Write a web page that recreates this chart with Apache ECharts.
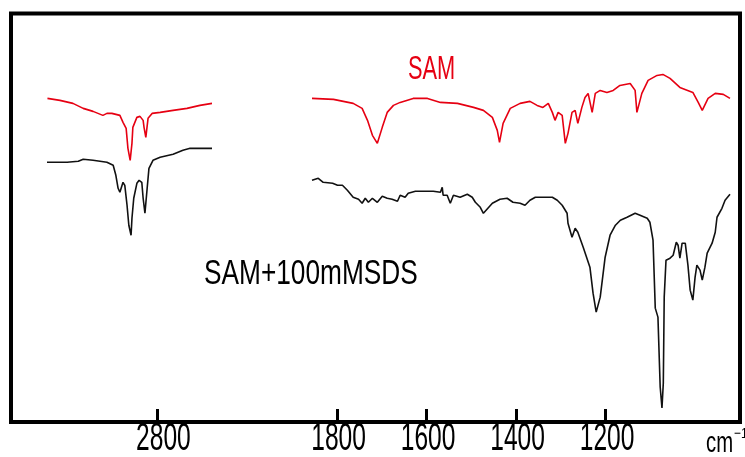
<!DOCTYPE html>
<html>
<head>
<meta charset="utf-8">
<script src="https://cdn.jsdelivr.net/npm/echarts@6/dist/echarts.min.js"></script>
<style>
html,body{margin:0;padding:0;background:#fff;}
#main{width:745px;height:457px;}
</style>
</head>
<body>
<div id="main"></div>
<script>
// 左側 (C-H 伸縮領域) 波数 / 透過率(任意単位)
var samLeftWn = [3046,3018,2989,2966,2944,2922,2913,2902,2884,2877,2870,2866,2861,2857,2855,2846,2839,2832,2830,2826,2821,2812,2794,2765,2734,2705,2678];
var samLeftT  = [324,322,319,314,311,307,309,309,307,300,294,274,262,279,295,305,306,302,295,285,304,309,310,312,314,317,319];
var sdsLeftWn = [3047,3002,2977,2966,2944,2913,2899,2893,2888,2884,2877,2873,2868,2864,2859,2857,2853,2846,2841,2835,2832,2828,2823,2819,2810,2794,2765,2743,2727,2678];
var sdsLeftT  = [260,260,261,263,262,260,257,247,234,230,240,237,217,197,187,204,224,239,242,240,224,209,234,254,262,265,268,272,274,274];

// 右側 (指紋領域)
var samRightWn = [1856,1808,1786,1764,1744,1732,1721,1710,1699,1688,1674,1659,1630,1598,1569,1531,1495,1473,1453,1442,1437,1429,1413,1391,1369,1353,1340,1328,1319,1313,1306,1297,1290,1284,1275,1268,1262,1253,1246,1239,1230,1223,1212,1197,1183,1168,1145,1134,1130,1119,1105,1085,1072,1056,1034,1005,993,984,971,955,937,922];
var samRightT  = [324,323,321,319,314,302,287,279,295,310,317,320,324,324,320,319,315,312,305,292,280,299,314,319,321,317,315,319,310,302,310,307,279,289,310,312,299,315,325,329,310,329,332,330,332,337,339,332,310,329,342,347,348,344,335,330,320,312,324,329,328,324];
var sdsRightWn = [1856,1842,1831,1810,1799,1788,1777,1764,1752,1744,1737,1730,1721,1710,1699,1688,1677,1665,1659,1648,1641,1625,1585,1569,1565,1563,1554,1547,1540,1525,1509,1498,1491,1480,1473,1465,1453,1436,1420,1407,1391,1380,1369,1357,1319,1308,1297,1286,1284,1275,1268,1262,1250,1235,1228,1221,1212,1201,1190,1178,1167,1152,1134,1123,1107,1101,1094,1089,1083,1078,1074,1071,1069,1065,1056,1049,1042,1038,1034,1029,1022,1016,1011,1005,1000,996,989,984,978,973,962,955,951,940,933,922];
var sdsRightT  = [242,244,240,239,237,237,232,225,223,219,224,220,224,220,226,224,223,221,227,225,229,231,231,230,235,227,227,219,227,225,228,225,220,215,209,213,219,223,224,220,219,217,222,225,225,222,217,209,199,185,194,190,175,155,129,110,125,165,187,197,202,205,209,207,204,200,182,114,105,35,14,39,125,162,164,167,180,177,164,179,179,157,132,122,145,157,152,142,155,169,179,190,205,214,222,228];

var leftTicks = [2800];
var rightTicks = [1800, 1600, 1400, 1200];
var samName = 'SAM';
var sdsName = 'SAM+100mMSDS';

function pairs(xs, ys){
	var out = [];
	for (var i = 0; i < xs.length; i++) { out.push([xs[i], ys[i]]); }
	return out;
}

var RED = '#e60012';
var INK = '#111111';
var FONT = "'Liberation Sans', Arial, sans-serif";

function xAx(idx, min, max, ticks){
	return {
		type: 'value', gridIndex: idx, min: min, max: max, inverse: true, position: 'bottom',
		axisLine: {show: false},
		splitLine: {show: false},
		axisTick: {show: true, inside: true, length: 13, customValues: ticks, lineStyle: {color: '#000', width: 3}},
		axisLabel: {show: false}
	};
}

var chart = echarts.init(document.getElementById('main'), null, {renderer: 'canvas'});
chart.setOption({
	animation: false,
	backgroundColor: '#fff',
	grid: [
		{left: 47, width: 165, top: 13.5, bottom: 35},
		{left: 312, width: 418, top: 13.5, bottom: 35},
		{left: 11, right: 5, top: 13.5, bottom: 35, show: true, borderColor: '#000', borderWidth: 4, backgroundColor: 'transparent'}
	],
	xAxis: [
		xAx(0, 2678, 3047, leftTicks),
		xAx(1, 922, 1856, rightTicks),
		{type: 'value', gridIndex: 2, show: false}
	],
	yAxis: [
		{type: 'value', gridIndex: 0, min: 0, max: 409, show: false},
		{type: 'value', gridIndex: 1, min: 0, max: 409, show: false},
		{type: 'value', gridIndex: 2, show: false}
	],
	series: [
		{name: samName, type: 'line', xAxisIndex: 0, yAxisIndex: 0, data: pairs(samLeftWn, samLeftT), showSymbol: false, lineStyle: {color: RED, width: 1.6}},
		{name: sdsName, type: 'line', xAxisIndex: 0, yAxisIndex: 0, data: pairs(sdsLeftWn, sdsLeftT), showSymbol: false, lineStyle: {color: INK, width: 1.6}},
		{name: samName, type: 'line', xAxisIndex: 1, yAxisIndex: 1, data: pairs(samRightWn, samRightT), showSymbol: false, lineStyle: {color: RED, width: 1.6}},
		{name: sdsName, type: 'line', xAxisIndex: 1, yAxisIndex: 1, data: pairs(sdsRightWn, sdsRightT), showSymbol: false, lineStyle: {color: INK, width: 1.6}}
	]
});

// 目盛ラベル: 縦長の書体なので scaleX で細くして軸の位置に置く
function tickLabel(axisIdx, v, dx){
	var px = chart.convertToPixel({xAxisIndex: axisIdx}, v);
	return {type: 'text', x: px + dx, y: 439, scaleX: 0.63, silent: true,
		style: {text: String(v), align: 'center', verticalAlign: 'middle', fill: '#000', font: '39px ' + FONT}};
}
var els = [];
leftTicks.forEach(function(v){ els.push(tickLabel(0, v, 6)); });
rightTicks.forEach(function(v){ els.push(tickLabel(1, v, 1.5)); });
els.push({type: 'text', x: 408, y: 70, scaleX: 0.66, style: {text: samName, align: 'left', verticalAlign: 'middle', fill: RED, font: '33px ' + FONT}});
els.push({type: 'text', x: 204, y: 274.5, scaleX: 0.75, style: {text: sdsName, align: 'left', verticalAlign: 'middle', fill: '#000', font: '35px ' + FONT}});
els.push({type: 'text', x: 706, y: 444, scaleX: 0.7, style: {text: 'cm', align: 'left', verticalAlign: 'middle', fill: '#000', font: '29px ' + FONT}});
els.push({type: 'text', x: 734, y: 434, scaleX: 0.8, style: {text: '−1', align: 'left', verticalAlign: 'middle', fill: '#000', font: '15px ' + FONT}});
chart.setOption({graphic: {elements: els}});
</script>
</body>
</html>
